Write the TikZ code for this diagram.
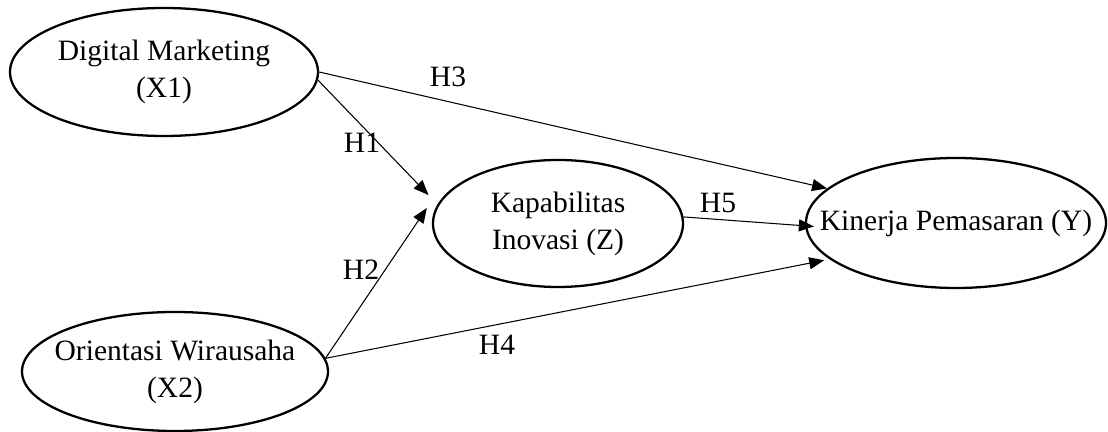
\documentclass[tikz,border=0pt]{standalone}
\usepackage{fontspec}
\setmainfont{Liberation Serif}
\usetikzlibrary{shapes.geometric,arrows.meta}

\begin{document}
\begin{tikzpicture}[
		var/.style={ellipse,draw,line width=1.3pt,inner sep=0pt,inner xsep=-0.6cm,
			align=center,font=\fontsize{16.8}{21}\selectfont},
		hyp/.style={anchor=base,inner sep=0pt,font=\fontsize{16.8}{21}\selectfont},
		link/.style={line width=0.6pt,-{Triangle[length=0.3cm,width=0.24cm]}}
	]
		\useasboundingbox (0,0) rectangle (22.16,8.64);
		% variables
		\node[var,minimum width=6.16cm,minimum height=2.56cm] (x1) at (3.28,7.2) {Digital Marketing\\(X1)};
		\node[var,minimum width=6.12cm,minimum height=2.38cm] (x2) at (3.5,1.21) {Orientasi Wirausaha\\(X2)};
		\node[var,minimum width=5cm,minimum height=2.54cm] (z) at (11.16,4.17) {Kapabilitas\\Inovasi (Z)};
		\node[var,minimum width=5.96cm,minimum height=2.6cm] (y) at (19.12,4.18) {Kinerja Pemasaran (Y)};
%
		\draw[link,shorten >=0.26cm] (x1.-3) -- (z.171);
		\draw[link] (x2.5) -- ([shift={(-0.1,0.31)}]z.west);
		\draw[link] (x1.east) -- (y.165);
		\draw[link,shorten >=0.11cm] (x2.5) -- (y.196);
		\draw[link] (z.3) -- ([shift={(0.18,-0.07)}]y.west);
		% labels
		\node[hyp] (h1) at (7.24,5.58) {H1};
		\node[hyp] (h2) at (7.22,3.04) {H2};
		\node[hyp] (h3) at (8.96,6.9) {H3};
		\node[hyp] (h4) at (9.94,1.54) {H4};
		\node[hyp] (h5) at (14.36,4.38) {H5};
\end{tikzpicture}
\end{document}
